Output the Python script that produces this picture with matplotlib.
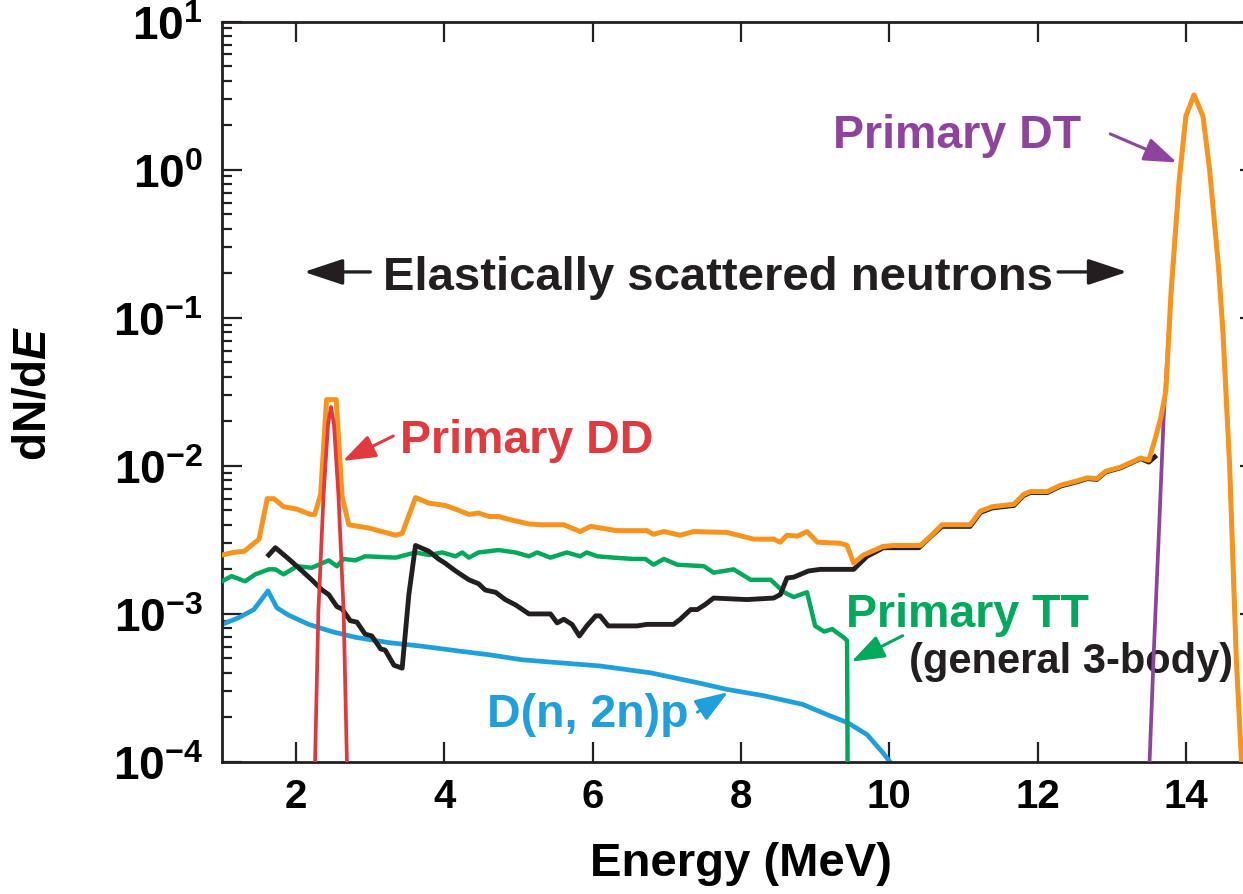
import numpy as np
import matplotlib
matplotlib.use("Agg")
import matplotlib.pyplot as plt

plt.rcParams['font.family'] = ['Liberation Sans', 'DejaVu Sans']
plt.rcParams['font.weight'] = 'bold'
plt.rcParams['mathtext.fontset'] = 'custom'
plt.rcParams['mathtext.rm'] = 'Liberation Sans:bold'
plt.rcParams['mathtext.it'] = 'Liberation Sans:italic:bold'
plt.rcParams['mathtext.bf'] = 'Liberation Sans:bold'

# Total spectrum (orange)
total_E = [1.0, 1.15, 1.3, 1.5, 1.61, 1.70, 1.83, 2.01, 2.19, 2.25, 2.33, 2.41, 2.54, 2.62,
           2.71, 2.98, 3.34, 3.43, 3.61, 3.79, 4.01, 4.15, 4.33, 4.46, 4.60, 4.73, 4.91,
           5.14, 5.32, 5.61, 5.83, 5.97, 6.33, 6.73, 6.82, 6.96, 7.18, 7.36, 7.81, 8.17,
           8.44, 8.53, 8.62, 8.76, 8.89, 9.03, 9.34, 9.43, 9.52, 9.65, 9.91, 10.06, 10.42,
           10.57, 10.71, 11.09, 11.23, 11.39, 11.68, 11.81, 11.90, 12.13, 12.31, 12.53,
           12.67, 12.80, 12.92, 13.12, 13.39, 13.50, 13.59, 13.66, 13.73, 13.80, 13.91,
           14.00, 14.11, 14.23, 14.32, 14.44, 14.50, 14.59, 14.68, 14.76]
total_dNdE = [2.5e-3, 2.6e-3, 2.65e-3, 3.2e-3, 6.0e-3, 6.0e-3, 5.3e-3, 5.1e-3, 4.7e-3, 4.7e-3,
              6.4e-3, 2.8e-2, 2.8e-2, 6.2e-3, 4.0e-3, 3.8e-3, 3.4e-3, 3.5e-3, 6.1e-3, 5.6e-3,
              5.4e-3, 5.1e-3, 4.7e-3, 4.8e-3, 4.55e-3, 4.55e-3, 4.3e-3, 4.05e-3, 4.0e-3,
              4.0e-3, 3.6e-3, 3.9e-3, 3.65e-3, 3.65e-3, 3.45e-3, 3.6e-3, 3.4e-3, 3.6e-3,
              3.55e-3, 3.2e-3, 3.2e-3, 3.05e-3, 3.4e-3, 3.35e-3, 3.6e-3, 3.05e-3, 3.0e-3,
              2.9e-3, 2.2e-3, 2.5e-3, 2.85e-3, 2.9e-3, 2.9e-3, 3.4e-3, 4.0e-3, 4.0e-3,
              4.95e-3, 5.3e-3, 5.5e-3, 6.4e-3, 6.7e-3, 6.7e-3, 7.4e-3, 7.9e-3, 8.3e-3,
              8.2e-3, 9.2e-3, 9.8e-3, 1.13e-2, 1.09e-2, 1.55e-2, 2.1e-2, 3.2e-2, 0.15, 0.85,
              2.3, 3.2, 2.3, 1.0, 0.22, 0.08, 1.0e-2, 5.0e-4, 8e-5]

# Elastically scattered neutrons (black)
elastic_E = [1.63, 1.72, 1.90, 2.08, 2.21, 2.35, 2.44, 2.55, 2.62, 2.73, 2.82, 2.93, 3.02,
             3.14, 3.20, 3.32, 3.43, 3.52, 3.61, 3.79, 3.92, 4.01, 4.15, 4.33, 4.46, 4.55,
             4.69, 4.82, 4.96, 5.14, 5.20, 5.43, 5.52, 5.61, 5.72, 5.82, 5.92, 6.04, 6.10,
             6.21, 6.60, 6.73, 7.09, 7.18, 7.32, 7.41, 7.52, 7.63, 8.08, 8.44, 8.53, 8.62,
             8.71, 8.91, 9.07, 9.52, 9.70, 9.92, 10.40, 10.55, 10.71, 11.09, 11.23, 11.39,
             11.68, 11.81, 11.90, 12.13, 12.31, 12.53, 12.67, 12.80, 12.92, 13.12, 13.39,
             13.50, 13.58]
elastic_dNdE = [2.5e-3, 2.8e-3, 2.35e-3, 1.95e-3, 1.7e-3, 1.45e-3, 1.35e-3, 1.12e-3, 1.08e-3,
                9e-4, 8.8e-4, 7.3e-4, 7.1e-4, 5.8e-4, 5.7e-4, 4.5e-4, 4.3e-4, 1.35e-3, 2.9e-3,
                2.65e-3, 2.35e-3, 2.2e-3, 1.95e-3, 1.7e-3, 1.6e-3, 1.45e-3, 1.4e-3, 1.25e-3,
                1.15e-3, 1.0e-3, 1.0e-3, 1.0e-3, 8.7e-4, 9.2e-4, 8.5e-4, 7.1e-4, 8.3e-4,
                9.7e-4, 9.7e-4, 8.3e-4, 8.3e-4, 8.5e-4, 8.5e-4, 9.2e-4, 1.07e-3, 1.07e-3,
                1.16e-3, 1.28e-3, 1.25e-3, 1.28e-3, 1.35e-3, 1.75e-3, 1.77e-3, 1.95e-3,
                2.0e-3, 2.0e-3, 2.45e-3, 2.8e-3, 2.8e-3, 3.3e-3, 3.9e-3, 3.9e-3, 4.85e-3,
                5.2e-3, 5.4e-3, 6.3e-3, 6.6e-3, 6.6e-3, 7.3e-3, 7.8e-3, 8.2e-3, 8.1e-3,
                9.1e-3, 9.7e-3, 1.12e-2, 1.06e-2, 1.15e-2]

# Primary TT (green)
tt_E = [1.0, 1.13, 1.31, 1.45, 1.63, 1.72, 1.83, 2.01, 2.21, 2.44, 2.55, 2.64, 2.80, 2.93,
        3.34, 3.61, 3.79, 3.97, 4.15, 4.24, 4.33, 4.46, 4.73, 4.96, 5.14, 5.25, 5.43, 5.65,
        5.83, 5.92, 6.06, 6.28, 6.55, 6.71, 6.82, 6.96, 7.14, 7.50, 7.63, 7.77, 7.90, 8.13,
        8.40, 8.58, 8.71, 8.89, 9.00, 9.12, 9.23, 9.39, 9.43, 9.44]
tt_dNdE = [1.66e-3, 1.8e-3, 1.66e-3, 1.85e-3, 2.0e-3, 2.0e-3, 1.85e-3, 2.1e-3, 2.05e-3,
           2.3e-3, 2.1e-3, 2.35e-3, 2.3e-3, 2.45e-3, 2.4e-3, 2.6e-3, 2.5e-3, 2.6e-3, 2.45e-3,
           2.6e-3, 2.4e-3, 2.6e-3, 2.7e-3, 2.6e-3, 2.45e-3, 2.6e-3, 2.4e-3, 2.6e-3, 2.45e-3,
           2.6e-3, 2.45e-3, 2.4e-3, 2.35e-3, 2.35e-3, 2.15e-3, 2.35e-3, 2.15e-3, 2.1e-3,
           1.9e-3, 1.95e-3, 2.0e-3, 1.7e-3, 1.7e-3, 1.4e-3, 1.3e-3, 1.4e-3, 8.3e-4, 7.6e-4,
           7.9e-4, 6.9e-4, 6.6e-4, 5e-5]

# D(n,2n)p breakup (blue)
dn2n_E = [1.0, 1.22, 1.43, 1.62, 1.74, 1.90, 2.17, 2.48, 2.80, 3.25, 3.70, 4.15, 4.60, 5.05,
          5.50, 6.10, 6.78, 7.45, 7.80, 8.31, 8.83, 9.19, 9.44, 9.70, 9.91, 10.01, 10.05]
dn2n_dNdE = [8.5e-4, 9.4e-4, 1.07e-3, 1.43e-3, 1.1e-3, 9.8e-4, 8.5e-4, 7.6e-4, 6.95e-4,
             6.4e-4, 6.05e-4, 5.65e-4, 5.3e-4, 4.9e-4, 4.7e-4, 4.45e-4, 4.0e-4, 3.4e-4,
             3.1e-4, 2.8e-4, 2.45e-4, 2.06e-4, 1.84e-4, 1.53e-4, 1.16e-4, 1.0e-4, 9e-5]

# Primary DD (red)
dd_E = [2.23, 2.255, 2.30, 2.37, 2.43, 2.47, 2.51, 2.57, 2.64, 2.685, 2.71]
dd_dNdE = [5e-5, 1e-4, 1.05e-3, 6.4e-3, 1.9e-2, 2.5e-2, 1.9e-2, 6.4e-3, 1.05e-3, 1e-4, 5e-5]

# Primary DT (purple)
dt_E = [13.48, 13.51, 13.57, 13.63, 13.70, 13.80, 13.91, 14.00, 14.11, 14.23, 14.32, 14.44,
        14.50, 14.59, 14.68, 14.76]
dt_dNdE = [5e-5, 1e-4, 6e-4, 3e-3, 2.1e-2, 0.14, 0.84, 2.3, 3.2, 2.3, 1.0, 0.22, 0.08,
           1.0e-2, 5.0e-4, 8e-5]

ORANGE = '#F7941E'
BLACK = '#231F20'
GREEN = '#00A95C'
BLUE = '#1FA0DC'
RED = '#E0393E'
PURPLE = '#8E449C'

fig = plt.figure(figsize=(12.43, 8.95), dpi=100)
ax = fig.add_axes([0.1786, 0.1475, 0.8351, 0.8272])

ax.plot(dn2n_E, dn2n_dNdE, color=BLUE, lw=3.4, zorder=2)
ax.plot(tt_E, tt_dNdE, color=GREEN, lw=3.2, zorder=3)
ax.plot(elastic_E, elastic_dNdE, color=BLACK, lw=3.5, zorder=4)
ax.plot(dt_E, dt_dNdE, color=PURPLE, lw=2.7, zorder=5)
ax.plot(total_E, total_dNdE, color=ORANGE, lw=3.6, zorder=6)
ax.plot(dd_E, dd_dNdE, color=RED, lw=2.7, zorder=7)

ax.set_yscale('log')
ax.set_xlim(1, 15)
ax.set_ylim(1e-4, 10)
ax.set_xticks([2, 4, 6, 8, 10, 12, 14])

for s in ax.spines.values():
    s.set_linewidth(2.0)
    s.set_color(BLACK)

ax.tick_params(which='both', direction='in', top=True, right=True, color=BLACK)
ax.tick_params(which='major', length=14.5, width=1.6)
ax.tick_params(which='minor', length=7.2, width=1.6)
ax.tick_params(axis='x', which='minor', top=False, bottom=False)
ax.tick_params(axis='x', labelsize=29, pad=11)
ax.tick_params(axis='y', labelsize=33, pad=14)

ax.set_xlabel('Energy (MeV)', fontsize=34, fontweight='bold')
ax.xaxis.set_label_coords(0.5, -0.107)
ax.set_ylabel(r'dN/d$\mathit{E}$', fontsize=33, fontweight='bold')
ax.yaxis.set_label_coords(-0.16, 0.5)

# annotations
fs = 33.5
ax.text(3.40, 1.24e-2, 'Primary DD', color=RED, fontsize=fs, fontweight='bold', va='baseline')
ax.text(9.24, 1.42, 'Primary DT', color=PURPLE, fontsize=fs, fontweight='bold', va='baseline')
ax.text(9.416, 8.29e-4, 'Primary TT', color=GREEN, fontsize=fs, fontweight='bold', va='baseline')
ax.text(10.26, 4.06e-4, '(general 3-body)', color=BLACK, fontsize=30, fontweight='bold',
        va='baseline')
ax.text(4.574, 1.75e-4, 'D(n, 2n)p', color=BLUE, fontsize=fs, fontweight='bold', va='baseline')
ax.text(7.683, 0.1567, 'Elastically scattered neutrons', color=BLACK, fontsize=34,
        fontweight='bold', va='baseline', ha='center')

def arrow(tail, tip, color, ms=40, hl=0.5, hw=0.18, lw=2.2):
    ax.annotate('', xy=tip, xytext=tail,
                arrowprops=dict(arrowstyle=f'-|>,head_length={hl},head_width={hw}',
                                color=color, lw=lw, mutation_scale=ms,
                                shrinkA=0, shrinkB=0), zorder=8)

arrow((3.31, 1.59e-2), (2.63, 1.08e-2), RED)
arrow((12.98, 1.744), (13.877, 1.12), PURPLE)
arrow((10.18, 7.13e-4), (9.49, 4.76e-4), GREEN)
arrow((7.413, 2.17e-4), (7.825, 2.96e-4), BLUE)
arrow((3.0, 0.204), (2.106, 0.204), BLACK, hl=0.6, hw=0.2, lw=2.4)
arrow((12.276, 0.204), (13.207, 0.204), BLACK, hl=0.6, hw=0.2, lw=2.4)

fig.savefig('out.png', dpi=100)
